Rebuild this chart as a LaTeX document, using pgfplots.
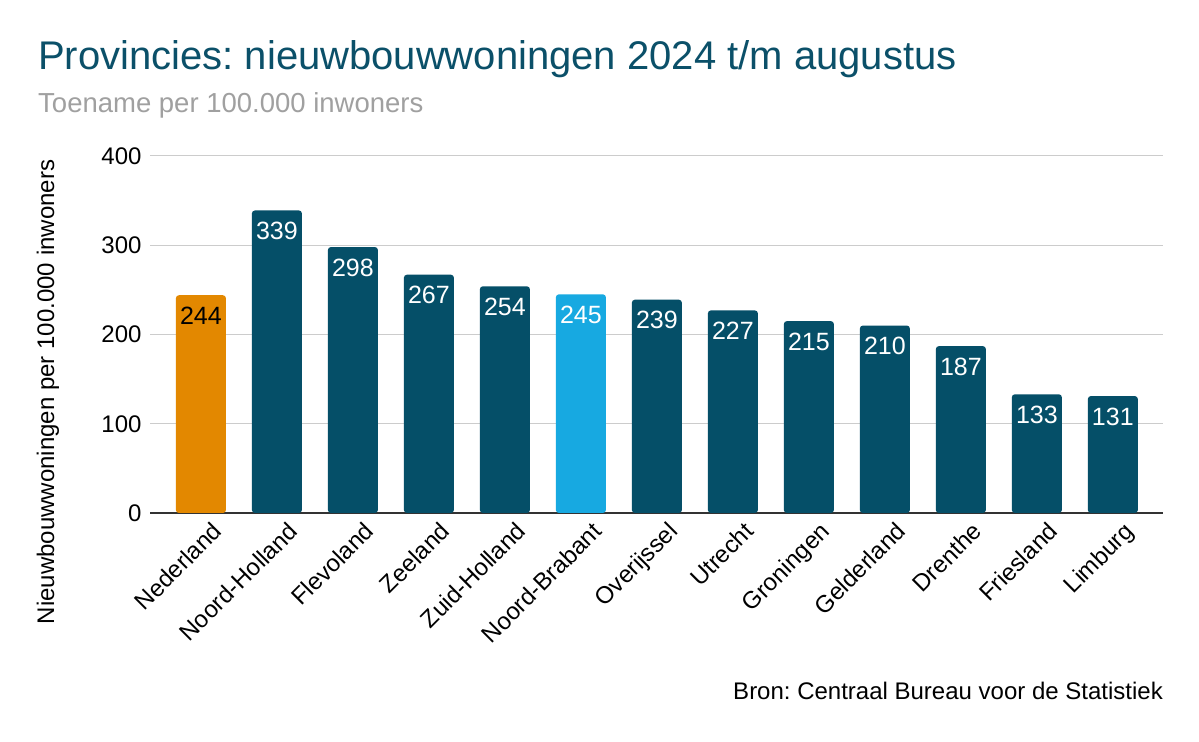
\documentclass[border=0pt]{standalone}
\usepackage{pgfplots}
\pgfplotsset{compat=1.18}
\usepackage{fontspec}
\setmainfont{Liberation Sans}
\definecolor{titleblue}{HTML}{0B5069}
\definecolor{barblue}{HTML}{054F68}
\definecolor{barorange}{HTML}{E38800}
\definecolor{barlight}{HTML}{17A9E1}
\definecolor{subgrey}{HTML}{A0A0A0}
\definecolor{gridgrey}{HTML}{CCCCCC}
\newcommand{\fs}[1]{\fontsize{#1bp}{#1bp}\selectfont}
\frenchspacing
\begin{document}
\begin{tikzpicture}
\path[use as bounding box, fill=white] (0,0) rectangle (1199bp,742bp);
\node[anchor=base west, text=titleblue, inner sep=0] at (38bp,672bp) {\fs{40}Provincies: nieuwbouwwoningen 2024 t/m augustus};
\node[anchor=base west, text=subgrey, inner sep=0] at (38bp,629bp) {\fs{27.5}Toename per 100.000 inwoners};
\node[anchor=base east, inner sep=0] at (1163bp,42bp) {\fs{24}Bron: Centraal Bureau voor de Statistiek};
\node[rotate=90, inner sep=0] at (48bp,350bp) {\fs{24}Nieuwbouwwoningen per 100.000 inwoners};
\begin{axis}[
  at={(150bp,229bp)}, anchor=south west,
  scale only axis, width=1013bp, height=357bp,
  ymin=0, ymax=400, ytick={0,100,200,300,400},
  xmin=-0.67, xmax=12.66,
  xtick={0,...,12},
  xticklabels={Nederland,Noord-Holland,Flevoland,Zeeland,Zuid-Holland,Noord-Brabant,Overijssel,Utrecht,Groningen,Gelderland,Drenthe,Friesland,Limburg},
  xticklabel style={rotate=45, anchor=north east, font=\fs{24}, xshift=5bp, yshift=-9bp},
  yticklabel style={font=\fs{24}, xshift=-5bp},
  /pgf/number format/assume math mode=true,
  axis x line*=bottom, axis y line*=left,
  y axis line style={draw=none},
  x axis line style={draw=black!80, line width=1.5bp, -},
  ymajorgrids, grid style={gridgrey, line width=1bp},
  major tick length=0pt,
  ybar, bar width=50bp,
  clip=false,
  nodes near coords,
  every node near coord/.append style={anchor=north, font=\fs{25}, yshift=-8bp},
]
\addplot[fill=barorange, draw=none, bar shift=0pt, rounded corners=3bp] coordinates {(0,244)};
\addplot[fill=barblue, draw=none, bar shift=0pt, rounded corners=3bp,
  every node near coord/.append style={text=white}] coordinates {
  (1,339) (2,298) (3,267) (4,254) (6,239) (7,227) (8,215) (9,210) (10,187) (11,133) (12,131)};
\addplot[fill=barlight, draw=none, bar shift=0pt, rounded corners=3bp,
  every node near coord/.append style={text=white}] coordinates {(5,245)};
\end{axis}
\end{tikzpicture}
\end{document}
